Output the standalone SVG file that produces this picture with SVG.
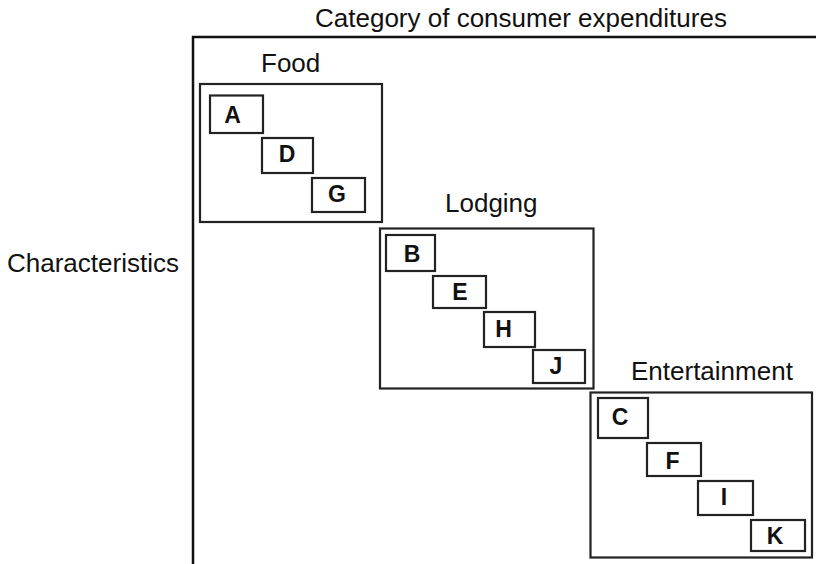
<svg xmlns="http://www.w3.org/2000/svg" width="816" height="564" viewBox="0 0 816 564">
<style>
  .frame{fill:none;stroke:#111;stroke-width:2.5}
  .grp{fill:none;stroke:#222;stroke-width:2.2}
  .cell{fill:#fff;stroke:#222;stroke-width:2.2}
  .lbl{font-family:"Liberation Sans",Arial,sans-serif;font-size:26px;fill:#111}
  .ltr{font-family:"Liberation Sans",Arial,sans-serif;font-size:23px;font-weight:bold;fill:#111;text-anchor:middle}
</style>
<rect width="816" height="564" fill="#fff"/>
<g id="frame">
  <path class="frame" d="M193,566 V37 H818"/>
  <text class="lbl" x="315" y="27">Category of consumer expenditures</text>
  <text class="lbl" x="7" y="272">Characteristics</text>
</g>
<g id="connectors"/>
<g id="food">
  <rect class="grp" x="200" y="84" width="182" height="138"/>
  <text class="lbl" x="261" y="72">Food</text>
</g>
<g id="lodging">
  <rect class="grp" x="380" y="228.5" width="213.5" height="160"/>
  <text class="lbl" x="445" y="212">Lodging</text>
</g>
<g id="entertainment">
  <rect class="grp" x="590.5" y="392.5" width="221.5" height="165"/>
  <text class="lbl" x="631" y="380">Entertainment</text>
</g>
<g id="A"><rect class="cell" x="210" y="95.5" width="53" height="37.5"/><text class="ltr" x="232.5" y="123">A</text></g>
<g id="D"><rect class="cell" x="262" y="138" width="51" height="35"/><text class="ltr" x="287" y="162">D</text></g>
<g id="G"><rect class="cell" x="312" y="178" width="53" height="34"/><text class="ltr" x="337" y="202">G</text></g>
<g id="B"><rect class="cell" x="386" y="235" width="49" height="36"/><text class="ltr" x="412" y="262">B</text></g>
<g id="E"><rect class="cell" x="433" y="276" width="53" height="32"/><text class="ltr" x="460" y="300">E</text></g>
<g id="H"><rect class="cell" x="484" y="312" width="51" height="35"/><text class="ltr" x="503.5" y="337">H</text></g>
<g id="J"><rect class="cell" x="533" y="350" width="52" height="33"/><text class="ltr" x="556" y="373.5">J</text></g>
<g id="C"><rect class="cell" x="598" y="398" width="50" height="40"/><text class="ltr" x="620" y="425">C</text></g>
<g id="F"><rect class="cell" x="647" y="443" width="54" height="33"/><text class="ltr" x="672.5" y="468.5">F</text></g>
<g id="I"><rect class="cell" x="698" y="481" width="55" height="34"/><text class="ltr" x="724" y="505">I</text></g>
<g id="K"><rect class="cell" x="751" y="520" width="54" height="31"/><text class="ltr" x="775" y="544">K</text></g>
</svg>
